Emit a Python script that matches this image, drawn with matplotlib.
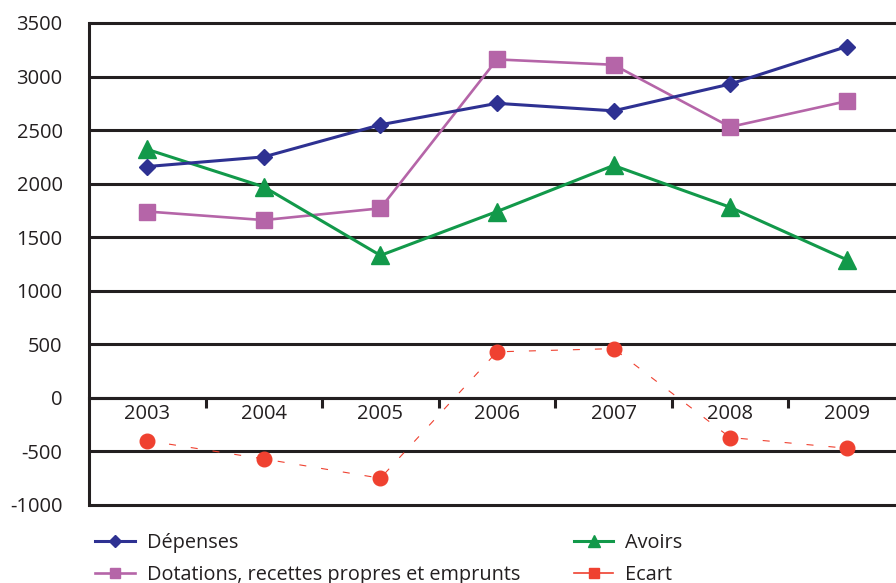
import matplotlib
matplotlib.use("Agg")
import matplotlib.pyplot as plt
from matplotlib.lines import Line2D

# ── data ───────────────────────────────────────────────────────────────────────
years     = ["2003", "2004", "2005", "2006", "2007", "2008", "2009"]
depenses  = [2160, 2250, 2550, 2750, 2680, 2930, 3280]
dotations = [1740, 1660, 1770, 3160, 3110, 2530, 2770]
avoirs    = [2320, 1970, 1330, 1740, 2170, 1780, 1290]
ecart     = [-400, -570, -750, 430, 460, -370, -470]
yticks    = [-1000, -500, 0, 500, 1000, 1500, 2000, 2500, 3000, 3500]

C_DEP  = "#2e3192"
C_DOT  = "#b565a8"
C_AVO  = "#12994a"
C_ECA  = "#ef4130"
C_TXT  = "#231f20"
C_GRID = "#231f20"

plt.rcParams["font.family"] = ["Open Sans", "DejaVu Sans"]
plt.rcParams["axes.unicode_minus"] = False

fig = plt.figure(figsize=(8.96, 5.83), dpi=100)
# axes run slightly past the right edge of the figure
ax = fig.add_axes([89 / 896, 78 / 583, 816 / 896, 482 / 583])

x = list(range(len(years)))

ax.hlines(yticks, -0.5, len(years) - 0.5, color=C_GRID, linewidth=2.2,
          clip_on=False, zorder=1)

ax.plot(x, depenses, color=C_DEP, linewidth=2.2, marker="D", markersize=8.6,
        zorder=4)
ax.plot(x, dotations, color=C_DOT, linewidth=1.9, marker="s", markersize=12,
        zorder=3)
ax.plot(x, avoirs, color=C_AVO, linewidth=2.2, marker="^", markersize=12.5,
        zorder=3)
ax.plot(x, ecart, color=C_ECA, linewidth=0.8, linestyle=(0, (6.3, 13.5)),
        marker="o", markersize=10.5, zorder=3)

ax.set_xlim(-0.5, len(years) - 0.5)
ax.set_ylim(-1000, 3500)

for side in ("top", "right"):
    ax.spines[side].set_visible(False)
ax.spines["left"].set_linewidth(2.2)
ax.spines["left"].set_color(C_GRID)
ax.spines["bottom"].set_position(("data", 0))
ax.spines["bottom"].set_linewidth(2.2)
ax.spines["bottom"].set_color(C_GRID)

# separators between categories on the zero line, labels under each year
ax.set_xticks([i + 0.5 for i in x[:-1]])
ax.set_xticklabels([])
ax.tick_params(axis="x", which="major", direction="out", length=7.5,
               width=2.2, color=C_GRID)
ax.set_xticks(x, minor=True)
ax.set_xticklabels(years, minor=True)
ax.tick_params(axis="x", which="minor", length=0, pad=4.5, labelsize=14.5,
               labelcolor=C_TXT)

ax.set_yticks(yticks)
ax.tick_params(axis="y", length=0, pad=19, labelsize=14.5, labelcolor=C_TXT)

handles = [
    Line2D([], [], color=C_DEP, linewidth=2.2, marker="D", markersize=6.5),
    Line2D([], [], color=C_DOT, linewidth=1.9, marker="s", markersize=7.5),
    Line2D([], [], color=C_AVO, linewidth=2.2, marker="^", markersize=8.5),
    Line2D([], [], color=C_ECA, linewidth=1.2, marker="s", markersize=7.5),
]
labels = ["Dépenses", "Dotations, recettes propres et emprunts", "Avoirs", "Ecart"]
fig.legend(handles, labels, loc="upper left", bbox_to_anchor=(95 / 896, 0.086),
           ncol=2, frameon=False, fontsize=14.3, handlelength=2.0,
           handletextpad=0.6, columnspacing=2.7, labelspacing=0.62,
           borderpad=0, borderaxespad=0, labelcolor=C_TXT)

fig.savefig("out.png", dpi=100)
